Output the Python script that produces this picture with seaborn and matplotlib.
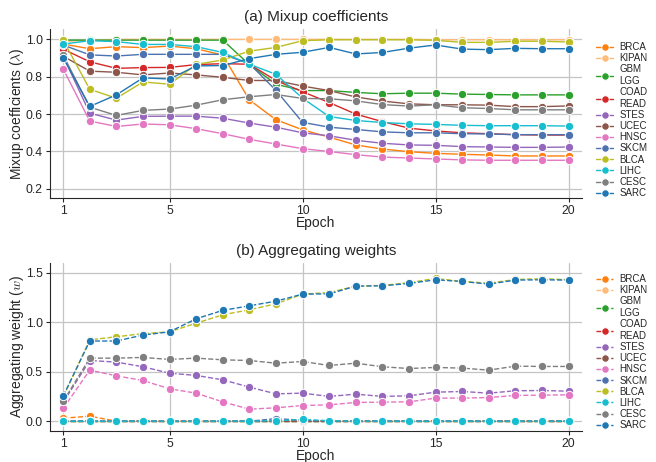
import pandas as pd
import matplotlib.pyplot as plt
import seaborn as sns

# valores
epochs = list(range(1, 21))
cohorts = ["BRCA", "KIPAN", "GBM\nLGG", "COAD\nREAD", "STES", "UCEC",
           "HNSC", "SKCM", "BLCA", "LIHC", "CESC", "SARC"]
colores = ["#ff7f0e", "#ffbb78", "#2ca02c", "#d62728", "#9467bd", "#8c564b",
           "#e377c2", "#4c72b0", "#bcbd22", "#17becf", "#7f7f7f", "#1f77b4"]

# (a) mixup coefficients
mix_brca = [0.975, 0.95, 0.961, 0.956, 0.964, 0.95, 0.916, 0.676, 0.57, 0.516,
            0.477, 0.435, 0.413, 0.399, 0.39, 0.385, 0.381, 0.376, 0.376, 0.376]
mix_kipan = [0.99, 0.995, 1.0, 1.0, 1.0, 1.0, 1.0, 1.0, 1.0, 1.0,
             1.0, 1.0, 1.0, 1.0, 0.998, 0.998, 0.998, 0.998, 0.998, 0.998]
mix_gbm = [0.996, 0.996, 0.996, 0.996, 0.996, 0.996, 0.996, 0.865, 0.76, 0.726,
           0.726, 0.716, 0.709, 0.712, 0.712, 0.707, 0.705, 0.703, 0.703, 0.703]
mix_coad = [0.948, 0.88, 0.845, 0.849, 0.85, 0.865, 0.87, 0.867, 0.78, 0.72,
            0.662, 0.6, 0.56, 0.525, 0.51, 0.5, 0.495, 0.49, 0.488, 0.488]
mix_stes = [0.91, 0.605, 0.568, 0.588, 0.589, 0.589, 0.578, 0.552, 0.53, 0.5,
            0.484, 0.46, 0.444, 0.435, 0.433, 0.426, 0.424, 0.422, 0.422, 0.424]
mix_ucec = [0.91, 0.83, 0.824, 0.81, 0.82, 0.81, 0.797, 0.78, 0.78, 0.75,
            0.726, 0.692, 0.67, 0.655, 0.65, 0.65, 0.648, 0.64, 0.64, 0.644]
mix_hnsc = [0.842, 0.563, 0.534, 0.547, 0.543, 0.522, 0.495, 0.465, 0.44, 0.415,
            0.4, 0.383, 0.37, 0.365, 0.36, 0.355, 0.353, 0.353, 0.353, 0.353]
mix_skcm = [0.97, 0.917, 0.911, 0.92, 0.92, 0.92, 0.92, 0.87, 0.727, 0.556,
            0.53, 0.518, 0.505, 0.5, 0.5, 0.495, 0.494, 0.49, 0.49, 0.49]
mix_blca = [0.996, 0.733, 0.685, 0.772, 0.76, 0.866, 0.89, 0.937, 0.957, 0.993,
            0.998, 0.998, 0.998, 0.998, 0.995, 0.984, 0.984, 0.99, 0.99, 0.986]
mix_lihc = [0.975, 0.993, 0.988, 0.973, 0.973, 0.961, 0.93, 0.867, 0.813, 0.685,
            0.587, 0.566, 0.555, 0.548, 0.545, 0.54, 0.538, 0.538, 0.538, 0.536]
mix_cesc = [0.916, 0.637, 0.593, 0.62, 0.627, 0.648, 0.677, 0.693, 0.705, 0.684,
            0.682, 0.671, 0.651, 0.643, 0.65, 0.634, 0.63, 0.623, 0.623, 0.623]
mix_sarc = [0.902, 0.641, 0.703, 0.794, 0.788, 0.858, 0.86, 0.897, 0.92, 0.931,
            0.957, 0.922, 0.93, 0.953, 0.97, 0.948, 0.945, 0.952, 0.95, 0.95]

# (b) aggregating weights
w_brca = [0.03, 0.05, 0.0, 0.0, 0.0, 0.0, 0.0, 0.0, 0.0, 0.0,
          0.0, 0.0, 0.0, 0.0, 0.0, 0.0, 0.0, 0.0, 0.0, 0.0]
w_kipan = [0.0] * 20
w_gbm = [0.0] * 20
w_coad = [0.0, 0.0, 0.0, 0.0, 0.0, 0.0, 0.0, 0.0, 0.0, 0.005,
          0.0, 0.0, 0.0, 0.0, 0.0, 0.0, 0.0, 0.0, 0.0, 0.0]
w_stes = [0.19, 0.613, 0.597, 0.55, 0.485, 0.462, 0.418, 0.344, 0.276, 0.283,
          0.25, 0.273, 0.25, 0.256, 0.293, 0.3, 0.283, 0.307, 0.31, 0.303]
w_ucec = [0.0] * 20
w_hnsc = [0.128, 0.516, 0.458, 0.411, 0.327, 0.283, 0.195, 0.121, 0.135, 0.158,
          0.165, 0.189, 0.192, 0.195, 0.233, 0.233, 0.239, 0.26, 0.263, 0.266]
w_skcm = [0.0, 0.0, 0.0, 0.0, 0.0, 0.0, 0.0, 0.0, 0.025, 0.01,
          0.0, 0.0, 0.0, 0.0, 0.0, 0.0, 0.0, 0.0, 0.0, 0.0]
w_blca = [0.243, 0.822, 0.853, 0.885, 0.903, 0.99, 1.075, 1.126, 1.186, 1.284,
          1.3, 1.365, 1.372, 1.40, 1.443, 1.412, 1.395, 1.432, 1.44, 1.43]
w_lihc = [0.0, 0.0, 0.0, 0.0, 0.0, 0.0, 0.0, 0.0, 0.005, 0.017,
          0.005, 0.0, 0.0, 0.0, 0.0, 0.0, 0.0, 0.0, 0.0, 0.0]
w_cesc = [0.2, 0.637, 0.637, 0.644, 0.624, 0.637, 0.62, 0.613, 0.586, 0.603,
          0.563, 0.586, 0.55, 0.532, 0.543, 0.536, 0.516, 0.556, 0.553, 0.553]
w_sarc = [0.253, 0.81, 0.81, 0.87, 0.903, 1.035, 1.12, 1.166, 1.213, 1.284,
          1.287, 1.365, 1.368, 1.392, 1.429, 1.412, 1.385, 1.426, 1.429, 1.426]

mix = [mix_brca, mix_kipan, mix_gbm, mix_coad, mix_stes, mix_ucec,
       mix_hnsc, mix_skcm, mix_blca, mix_lihc, mix_cesc, mix_sarc]
pesos = [w_brca, w_kipan, w_gbm, w_coad, w_stes, w_ucec,
         w_hnsc, w_skcm, w_blca, w_lihc, w_cesc, w_sarc]


def a_tabla(series):
    filas = []
    for c, vals in zip(cohorts, series):
        for e, v in zip(epochs, vals):
            filas.append({"epoch": e, "valor": v, "cohort": c})
    return pd.DataFrame(filas)


df_mix = a_tabla(mix)
df_w = a_tabla(pesos)
paleta = dict(zip(cohorts, colores))

sns.set_style("ticks")
plt.rcParams["font.family"] = ["Liberation Sans", "DejaVu Sans"]
plt.rcParams["mathtext.fontset"] = "cm"

fig = plt.figure(figsize=(6.56, 4.62), dpi=100)
ax1 = fig.add_axes([0.076, 0.571, 0.811, 0.366])
ax2 = fig.add_axes([0.076, 0.067, 0.811, 0.364])

estilo = dict(marker="o", markersize=6, markeredgecolor="white",
              markeredgewidth=0.7, linewidth=1.0)

sns.lineplot(data=df_mix, x="epoch", y="valor", hue="cohort", palette=paleta,
             ax=ax1, **estilo)
sns.lineplot(data=df_w, x="epoch", y="valor", hue="cohort", palette=paleta,
             ax=ax2, linestyle="--", **estilo)

for ax, titulo, ylab, ancla in [
        (ax1, "(a) Mixup coefficients", r"Mixup coefficients ($\lambda$)", 0.975),
        (ax2, "(b) Aggregating weights", r"Aggregating weight ($w$)", 0.985)]:
    ax.set_xlim(0.5, 20.5)
    ax.set_xticks([1, 5, 10, 15, 20])
    ax.grid(True, color="#c4c4c4", linewidth=0.9)
    ax.set_axisbelow(True)
    sns.despine(ax=ax)
    ax.set_title(titulo, fontsize=11, pad=6)
    ax.set_xlabel("Epoch", fontsize=10, labelpad=-0.5)
    ax.set_ylabel(ylab, fontsize=10, labelpad=0)
    ax.tick_params(labelsize=8.8, length=3, pad=2)
    h, l = ax.get_legend_handles_labels()
    ax.legend(h, l, loc="upper left", bbox_to_anchor=(1.01, ancla), frameon=False,
              fontsize=7, handlelength=1.8, labelspacing=0.12, handletextpad=0.6,
              markerscale=0.9)

ax1.set_ylim(0.15, 1.055)
ax1.set_yticks([0.2, 0.4, 0.6, 0.8, 1.0])
ax2.set_ylim(-0.1, 1.6)
ax2.set_yticks([0.0, 0.5, 1.0, 1.5])

fig.savefig("out.png", dpi=100)
